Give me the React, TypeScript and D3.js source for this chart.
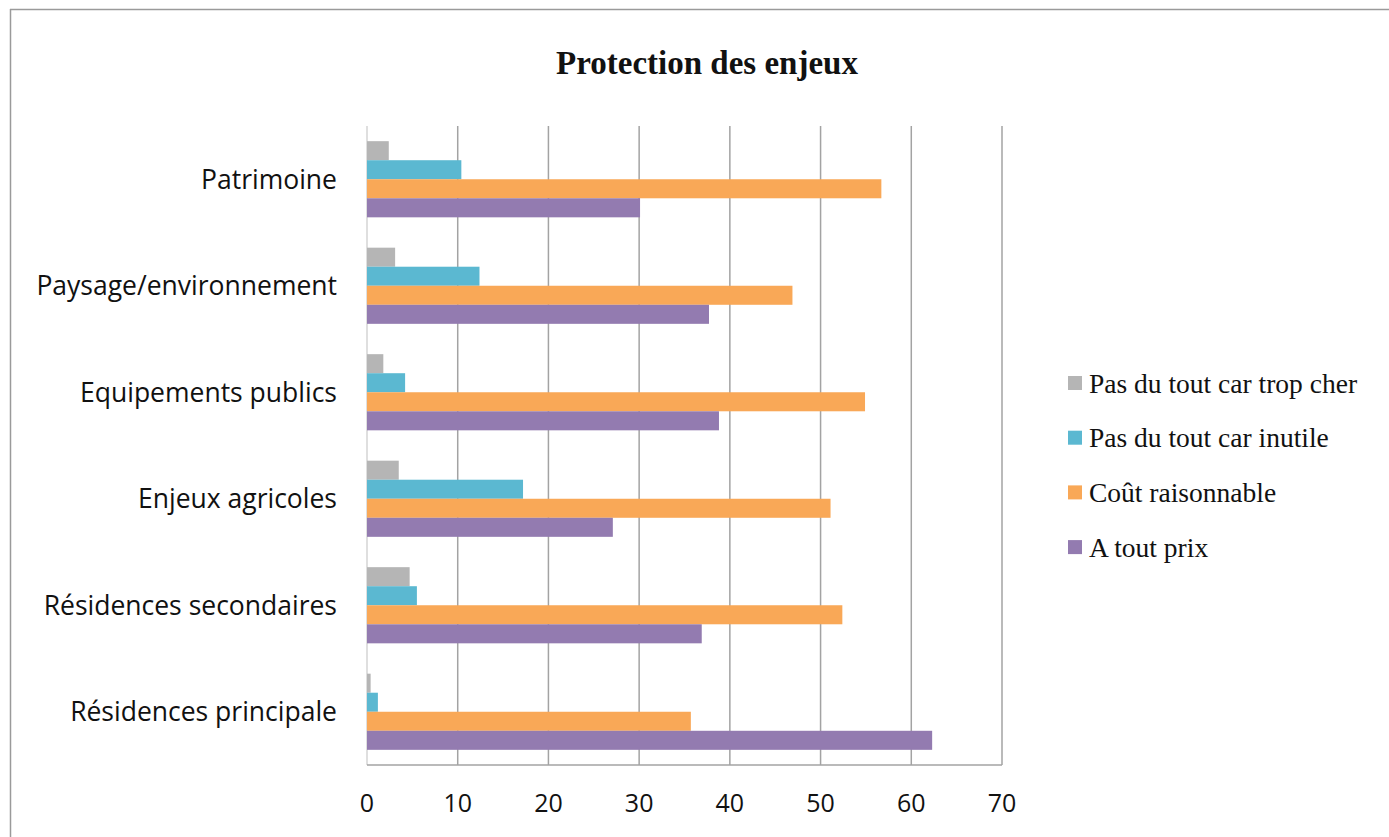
import React from "react";
import * as d3 from "d3";

const categories = [
  "Patrimoine",
  "Paysage/environnement",
  "Equipements publics",
  "Enjeux agricoles",
  "Résidences secondaires",
  "Résidences principale",
];
const seriesNames = [
  "Pas du tout car trop cher",
  "Pas du tout car inutile",
  "Coût raisonnable",
  "A tout prix",
];
const seriesColors = ["#b5b5b5", "#5bb8d1", "#f9a857", "#937bb0"];
const tropCher = [2.4, 3.1, 1.8, 3.5, 4.7, 0.4];
const inutile = [10.4, 12.4, 4.2, 17.2, 5.5, 1.2];
const raisonnable = [56.7, 46.9, 54.9, 51.1, 52.4, 35.7];
const toutPrix = [30.1, 37.7, 38.8, 27.1, 36.9, 62.3];
const xTicks = [0, 10, 20, 30, 40, 50, 60, 70];
const title = "Protection des enjeux";

const seriesValues = [tropCher, inutile, raisonnable, toutPrix];

export default function App() {
  const W = 1389;
  const H = 837;
  const left = 367;
  const right = 1002;
  const top = 126;
  const bottom = 765;

  const x = d3.scaleLinear().domain([0, 70]).range([left, right]);
  const y = d3
    .scaleBand<string>()
    .domain(categories)
    .range([top, bottom])
    .paddingInner(0.285)
    .paddingOuter(0.1425);
  const inner = d3
    .scaleBand<string>()
    .domain(seriesNames)
    .range([0, y.bandwidth()]);

  const sans = "'Open Sans', 'Noto Sans', sans-serif";
  const serif = "'Liberation Serif', 'Times New Roman', serif";

  return (
    <svg
      width={W}
      height={H}
      style={{ position: "absolute", left: 0, top: 0, background: "#fff" }}
    >
      <rect x={0} y={0} width={W} height={H} fill="#fff" />
      {/* frame */}
      <line x1={10} y1={9.5} x2={W} y2={9.5} stroke="#9a9a9a" strokeWidth={1.5} />
      <line x1={10.5} y1={9} x2={10.5} y2={H} stroke="#9a9a9a" strokeWidth={1.5} />

      <text
        x={707}
        y={74}
        textAnchor="middle"
        fontFamily={serif}
        fontWeight="bold"
        fontSize={33}
        fill="#111"
      >
        {title}
      </text>

      {/* grid */}
      {xTicks.map((t) => (
        <line
          key={t}
          x1={x(t)}
          x2={x(t)}
          y1={top}
          y2={bottom}
          stroke={t === 0 ? "#d4d4d4" : "#a3a3a3"}
          strokeWidth={1.5}
        />
      ))}
      <line x1={left} x2={right} y1={bottom} y2={bottom} stroke="#a3a3a3" strokeWidth={1.5} />

      {/* bars */}
      {categories.map((c, ci) =>
        seriesNames.map((s, si) => (
          <rect
            key={c + s}
            x={x(0)}
            y={(y(c) as number) + (inner(s) as number)}
            width={x(seriesValues[si][ci]) - x(0)}
            height={inner.bandwidth()}
            fill={seriesColors[si]}
          />
        ))
      )}

      {/* category labels */}
      {categories.map((c) => (
        <text
          key={c}
          x={337}
          y={(y(c) as number) + y.bandwidth() / 2}
          dy="0.35em"
          textAnchor="end"
          fontFamily={sans}
          fontSize={26.5}
          fill="#111"
        >
          {c}
        </text>
      ))}

      {/* x tick labels */}
      {xTicks.map((t) => (
        <text
          key={t}
          x={x(t)}
          y={803}
          dy="0.35em"
          textAnchor="middle"
          fontFamily={sans}
          fontSize={25}
          fill="#111"
        >
          {t}
        </text>
      ))}

      {/* legend */}
      {seriesNames.map((s, i) => (
        <g key={s} transform={`translate(1068, ${383 + i * 54.7})`}>
          <rect x={0} y={-7} width={14} height={14} fill={seriesColors[i]} />
          <text
            x={21}
            y={0}
            dy="0.35em"
            fontFamily={serif}
            fontSize={27.5}
            fill="#111"
          >
            {s}
          </text>
        </g>
      ))}
    </svg>
  );
}
